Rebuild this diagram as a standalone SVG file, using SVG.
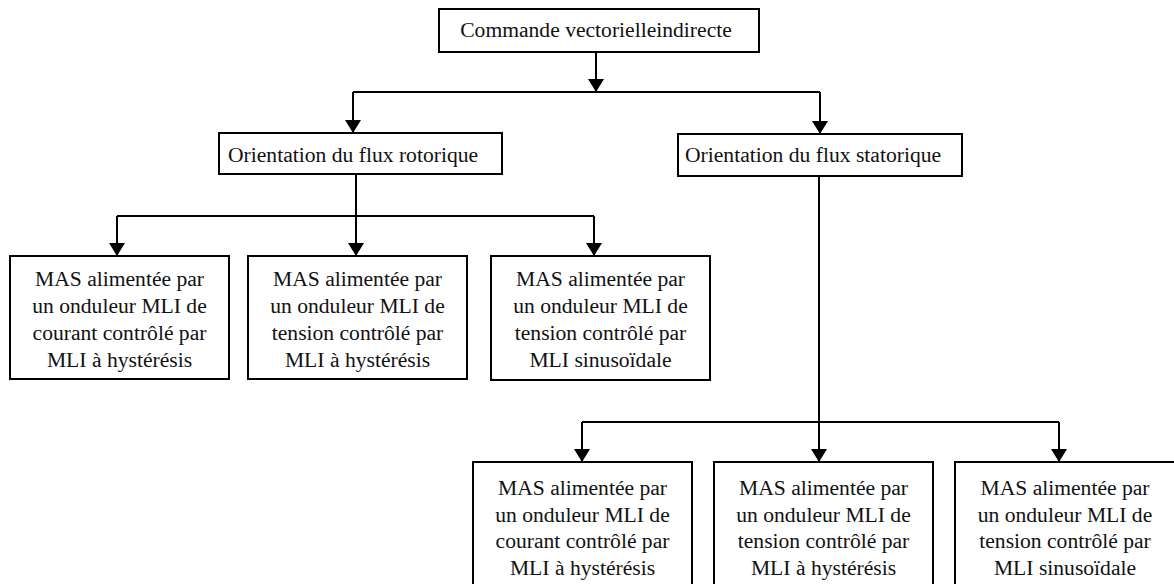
<svg xmlns="http://www.w3.org/2000/svg" width="1174" height="584" viewBox="0 0 1174 584">
<style>
.box{fill:#fff;stroke:#000;stroke-width:2}
.t{font-family:"Liberation Serif","Times New Roman",serif;font-size:21.6px;fill:#111}
.c{text-anchor:middle}
.ln{fill:none;stroke:#000;stroke-width:2}
.ar{marker-end:url(#ah)}
</style>
<defs>
<marker id="ah" markerUnits="userSpaceOnUse" markerWidth="14" markerHeight="16" viewBox="0 0 14 16" refX="13" refY="8" orient="auto">
<path d="M0,0 L13,8 L0,16 Z" fill="#000"/>
</marker>
</defs>
<rect width="1174" height="584" fill="#fff"/>
<g id="connectors">
<path class="ln ar" d="M596,52 V92"/>
<path class="ln" d="M353,92 H820"/>
<path class="ln ar" d="M353,92 V133"/>
<path class="ln ar" d="M820,92 V134"/>
<path class="ln ar" d="M356,174 V256"/>
<path class="ln" d="M117,216 H594"/>
<path class="ln ar" d="M117,216 V256"/>
<path class="ln ar" d="M594,216 V256"/>
<path class="ln ar" d="M819,176 V462"/>
<path class="ln" d="M582,422 H1059"/>
<path class="ln ar" d="M582,422 V462"/>
<path class="ln ar" d="M1059,422 V462"/>
</g>
<g id="n_top">
<rect class="box" x="439" y="9" width="320" height="43"/>
<text class="t c" x="596" y="37">Commande vectorielleindirecte</text>
</g>
<g id="n_rot">
<rect class="box" x="219" y="133" width="283" height="41"/>
<text class="t" x="228" y="162">Orientation du flux rotorique</text>
</g>
<g id="n_stat">
<rect class="box" x="678" y="134" width="284" height="42"/>
<text class="t" x="685" y="162">Orientation du flux statorique</text>
</g>
<g id="n_r1">
<rect class="box" x="10" y="256" width="219" height="123"/>
<text class="t c" x="119.5" y="286">MAS alimentée par</text>
<text class="t c" x="119.5" y="313">un onduleur MLI de</text>
<text class="t c" x="119.5" y="340">courant contrôlé par</text>
<text class="t c" x="119.5" y="367">MLI à hystérésis</text>
</g>
<g id="n_r2">
<rect class="box" x="248" y="256" width="219" height="123"/>
<text class="t c" x="357.5" y="286">MAS alimentée par</text>
<text class="t c" x="357.5" y="313">un onduleur MLI de</text>
<text class="t c" x="357.5" y="340">tension contrôlé par</text>
<text class="t c" x="357.5" y="367">MLI à hystérésis</text>
</g>
<g id="n_r3">
<rect class="box" x="491" y="256" width="219" height="124"/>
<text class="t c" x="600.5" y="286">MAS alimentée par</text>
<text class="t c" x="600.5" y="313">un onduleur MLI de</text>
<text class="t c" x="600.5" y="340">tension contrôlé par</text>
<text class="t c" x="600.5" y="367">MLI sinusoïdale</text>
</g>
<g id="n_s1">
<rect class="box" x="473" y="462" width="219" height="140"/>
<text class="t c" x="582.5" y="495">MAS alimentée par</text>
<text class="t c" x="582.5" y="521.7">un onduleur MLI de</text>
<text class="t c" x="582.5" y="548.4">courant contrôlé par</text>
<text class="t c" x="582.5" y="575">MLI à hystérésis</text>
</g>
<g id="n_s2">
<rect class="box" x="714" y="462" width="219" height="140"/>
<text class="t c" x="823.5" y="495">MAS alimentée par</text>
<text class="t c" x="823.5" y="521.7">un onduleur MLI de</text>
<text class="t c" x="823.5" y="548.4">tension contrôlé par</text>
<text class="t c" x="823.5" y="575">MLI à hystérésis</text>
</g>
<g id="n_s3">
<rect class="box" x="955" y="462" width="220" height="140"/>
<text class="t c" x="1065" y="495">MAS alimentée par</text>
<text class="t c" x="1065" y="521.7">un onduleur MLI de</text>
<text class="t c" x="1065" y="548.4">tension contrôlé par</text>
<text class="t c" x="1065" y="575">MLI sinusoïdale</text>
</g>
</svg>
